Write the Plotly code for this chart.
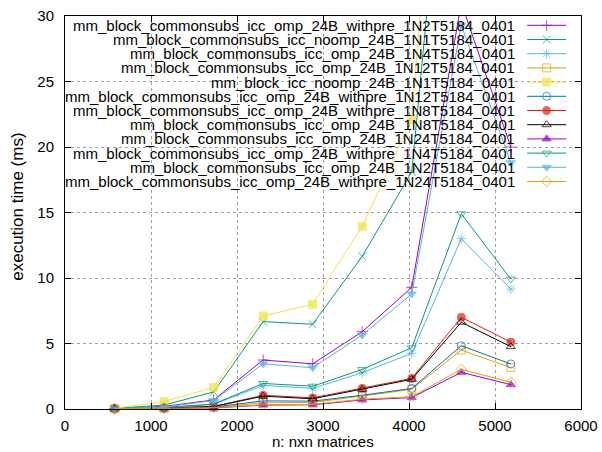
import plotly.graph_objects as go

# Matrix sizes (n for n x n matrices)
sizes = [576, 1152, 1728, 2304, 2880, 3456, 4032, 4608, 5184]

# Execution times in ms, one list per run configuration
t_withpre_1n2t = [0.03, 0.20, 0.69, 3.74, 3.45, 5.90, 9.29, 31.0, 20.0]
t_noomp_1n1t = [0.05, 0.30, 1.30, 6.67, 6.47, 11.65, 18.1, 58.0, 38.0]
t_omp_1n4t = [0.02, 0.10, 0.35, 1.80, 1.58, 2.77, 4.25, 13.0, 9.15]
t_omp_1n12t = [0.02, 0.05, 0.12, 0.48, 0.50, 0.99, 1.50, 4.50, 3.16]
t_block_noomp_1n1t = [0.05, 0.56, 1.65, 7.10, 8.00, 13.95, 22.1, 70.0, 46.0]
t_withpre_1n12t = [0.02, 0.06, 0.15, 0.62, 0.60, 1.05, 1.57, 4.83, 3.44]
t_withpre_1n8t = [0.02, 0.08, 0.20, 1.05, 0.85, 1.58, 2.34, 7.00, 5.11]
t_omp_1n8t = [0.02, 0.07, 0.18, 0.98, 0.78, 1.50, 2.26, 6.62, 4.76]
t_omp_1n24t = [0.02, 0.03, 0.08, 0.30, 0.32, 0.69, 0.87, 2.80, 1.86]
t_withpre_1n4t = [0.02, 0.12, 0.38, 1.95, 1.74, 3.02, 4.68, 14.9, 9.92]
t_omp_1n2t = [0.02, 0.15, 0.64, 3.45, 3.15, 5.65, 8.78, 29.3, 18.8]
t_withpre_1n24t = [0.02, 0.04, 0.10, 0.33, 0.35, 0.75, 0.94, 3.03, 2.04]

labels = [
    "mm_block_commonsubs_icc_omp_24B_withpre_1N2T5184_0401",
    "mm_block_commonsubs_icc_noomp_24B_1N1T5184_0401",
    "mm_block_commonsubs_icc_omp_24B_1N4T5184_0401",
    "mm_block_commonsubs_icc_omp_24B_1N12T5184_0401",
    "mm_block_icc_noomp_24B_1N1T5184_0401",
    "mm_block_commonsubs_icc_omp_24B_withpre_1N12T5184_0401",
    "mm_block_commonsubs_icc_omp_24B_withpre_1N8T5184_0401",
    "mm_block_commonsubs_icc_omp_24B_1N8T5184_0401",
    "mm_block_commonsubs_icc_omp_24B_1N24T5184_0401",
    "mm_block_commonsubs_icc_omp_24B_withpre_1N4T5184_0401",
    "mm_block_commonsubs_icc_omp_24B_1N2T5184_0401",
    "mm_block_commonsubs_icc_omp_24B_withpre_1N24T5184_0401",
]
series = [
    t_withpre_1n2t, t_noomp_1n1t, t_omp_1n4t, t_omp_1n12t,
    t_block_noomp_1n1t, t_withpre_1n12t, t_withpre_1n8t, t_omp_1n8t,
    t_omp_1n24t, t_withpre_1n4t, t_omp_1n2t, t_withpre_1n24t,
]

colors = ["#9400d3", "#009e73", "#56b4e9", "#e69f00", "#f0e442", "#0072b2",
          "#e51e10", "#000000", "#9400d3", "#009e73", "#56b4e9", "#e69f00"]
symbols = ["cross-thin", "x-thin", "asterisk", "square-open", "square",
           "circle-open", "circle", "triangle-up-open", "triangle-up",
           "triangle-down-open", "triangle-down", "diamond-open"]
msize = 8

Y_MAX = 30
FONT = "Liberation Sans, Arial, sans-serif"

fig = go.Figure()

for name, vals, col, sym in zip(labels, series, colors, symbols):
    # points beyond the y range are not drawn (the line is still clipped)
    sz = [msize if v <= Y_MAX else 0 for v in vals]
    fig.add_trace(go.Scatter(
        x=sizes, y=vals, mode="lines+markers", name=name,
        line=dict(color=col, width=1),
        marker=dict(symbol=sym, size=sz, color=col,
                    line=dict(color=col, width=1)),
        cliponaxis=False, showlegend=False,
    ))

# key: right-aligned labels with line samples to their right
plot_l, plot_r, plot_t, plot_b = 65.2, 580.8, 16.0, 409.0
pw, ph = plot_r - plot_l, plot_b - plot_t
row0, row_gap = 25.3, 14.2
text_right = 517.0
samp_x0, samp_x1 = 527.0, 566.0

for i, (name, col, sym) in enumerate(zip(labels, colors, symbols)):
    yp = (plot_b - (row0 + i * row_gap)) / ph
    xa = (samp_x0 - plot_l) / pw
    xb = (samp_x1 - plot_l) / pw
    fig.add_trace(go.Scatter(
        x=[xa, (xa + xb) / 2, xb], y=[yp, yp, yp],
        mode="lines+markers", xaxis="x2", yaxis="y2",
        line=dict(color=col, width=1),
        marker=dict(symbol=sym, size=[0, msize, 0], color=col,
                    line=dict(color=col, width=1)),
        cliponaxis=False, showlegend=False, hoverinfo="skip",
    ))
    fig.add_annotation(
        text=name, xref="paper", yref="paper",
        x=(text_right - plot_l) / pw, y=yp, xanchor="right", yanchor="middle",
        showarrow=False, font=dict(family=FONT, size=15, color="#000000"),
    )

# axis titles
fig.add_annotation(text="n: nxn matrices", xref="paper", yref="paper",
                   x=0.5, y=(plot_b - 441) / ph, xanchor="center", yanchor="middle",
                   showarrow=False, font=dict(family=FONT, size=15, color="#000000"))
fig.add_annotation(text="execution time (ms)", xref="paper", yref="paper",
                   x=(18 - plot_l) / pw, y=(plot_b - 207) / ph, textangle=-90,
                   xanchor="center", yanchor="middle",
                   showarrow=False, font=dict(family=FONT, size=17, color="#000000"))

axis_common = dict(
    showgrid=True, gridcolor="#a0a0a0", griddash="dot", gridwidth=1,
    showline=True, linecolor="#000000", linewidth=1, mirror="ticks",
    ticks="inside", ticklen=6, tickcolor="#000000", zeroline=False,
    tickfont=dict(family=FONT, size=15, color="#000000"),
)

fig.update_layout(
    width=602, height=452,
    margin=dict(l=65, r=21, t=16, b=43, autoexpand=False),
    paper_bgcolor="#ffffff", plot_bgcolor="#ffffff",
    xaxis=dict(range=[0, 6000], dtick=1000, tick0=0, ticklabelstandoff=3,
               **axis_common),
    yaxis=dict(range=[0, Y_MAX], dtick=5, tick0=0, ticklabelstandoff=7,
               **axis_common),
    xaxis2=dict(range=[0, 1], domain=[0, 1], overlaying="x", anchor="y2",
                visible=False, fixedrange=True),
    yaxis2=dict(range=[0, 1], domain=[0, 1], overlaying="y", anchor="x2",
                visible=False, fixedrange=True),
    showlegend=False,
)

fig.write_html("out.html")
